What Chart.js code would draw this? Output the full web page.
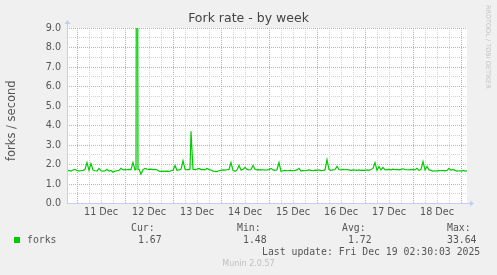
<!DOCTYPE html>
<html>
<head>
<meta charset="utf-8">
<script src="https://cdn.jsdelivr.net/npm/chart.js@4"></script>
<style>
  html, body { margin: 0; padding: 0; background: #F0F0F0; }
  #wrap { width: 497px; height: 275px; position: relative; }
</style>
</head>
<body>
<div id="wrap"><canvas id="c" width="497" height="275"></canvas></div>
<script>
// ---- data (hourly samples, hours relative to 11 Dec 00:00) ----
const startHour = -5;
const forks = [
  1.68,1.70,1.66,1.72,1.75,1.68,1.67,1.68,1.70,1.75,
  2.10,1.70,2.05,1.72,1.68,1.66,1.80,1.68,1.66,1.67,
  1.75,1.66,1.70,1.60,1.66,1.68,1.70,1.80,1.72,1.74,
  1.73,1.75,1.74,2.10,1.72,33.64,1.75,1.50,1.74,1.80,
  1.76,1.75,1.76,1.74,1.75,1.73,1.66,1.65,1.66,1.65,
  1.66,1.65,1.68,1.70,1.95,1.70,1.72,1.75,2.20,1.75,
  1.72,1.74,3.70,1.75,1.74,1.76,1.80,1.74,1.75,1.73,
  1.80,1.74,1.72,1.66,1.65,1.64,1.68,1.70,1.72,1.71,
  1.73,1.75,2.10,1.70,1.65,1.72,1.95,1.72,1.75,1.85,
  1.75,1.72,1.74,1.95,1.76,1.72,1.74,1.72,1.73,1.71,
  1.72,1.74,1.80,1.72,1.70,1.73,2.10,1.65,1.68,1.70,
  1.68,1.69,1.70,1.68,1.70,1.72,1.80,1.66,1.70,1.68,
  1.70,1.72,1.70,1.68,1.71,1.70,1.72,1.69,1.70,1.72,
  2.25,1.74,1.70,1.72,1.74,1.90,1.74,1.72,1.75,1.73,
  1.74,1.72,1.70,1.72,1.71,1.70,1.72,1.70,1.71,1.70,
  1.72,1.70,1.74,1.80,2.10,1.70,1.90,1.72,1.85,1.72,
  1.74,1.75,1.73,1.76,1.74,1.75,1.73,1.75,1.78,1.74,
  1.73,1.72,1.75,1.74,1.72,1.80,1.70,1.74,2.15,1.72,
  1.90,1.72,1.70,1.66,1.68,1.66,1.70,1.68,1.70,1.67,
  1.70,1.80,1.70,1.75,1.70,1.66,1.68,1.66,1.70,1.66,
  1.67
];
// extra half-hour samples around the big 12 Dec spike
const extraHours = [29.5, 30.5, 55.5, 56.5];
const extraForks = [1.74, 1.76, 1.75, 1.76];

const dayLabels = ['11 Dec','12 Dec','13 Dec','14 Dec','15 Dec','16 Dec','17 Dec','18 Dec'];
const yTickValues = [0,0.5,1,1.5,2,2.5,3,3.5,4,4.5,5,5.5,6,6.5,7,7.5,8,8.5,9];
const statNames = ['Cur:','Min:','Avg:','Max:'];
const statValues = ['1.67','1.48','1.72','33.64'];
const seriesName = 'forks';
const titleText = 'Fork rate - by week';
const yTitle = 'forks / second';
const lastUpdate = 'Last update: Fri Dec 19 02:30:03 2025';
const footer = 'Munin 2.0.57';
const sideText = 'RRDTOOL / TOBI OETIKER';

const points = forks.map((v, i) => ({ x: startHour + i, y: v }))
  .concat(extraHours.map((h, i) => ({ x: h, y: extraForks[i] })))
  .sort((a, b) => a.x - b.x);
const xMin = startHour, xMax = startHour + forks.length - 1;

const RED = '#e8a0a0', GREY = '#d2d2d2', AXIS = '#c8ccf4', GREEN = '#00cc00';
Chart.defaults.font.family = "'DejaVu Sans', sans-serif";

const decor = {
  id: 'decor',
  beforeDraw(chart) {
    const { ctx, chartArea: a } = chart;
    ctx.save();
    ctx.fillStyle = '#F0F0F0';
    ctx.fillRect(0, 0, chart.width, chart.height);
    ctx.fillStyle = '#FFFFFF';
    ctx.fillRect(a.left, a.top, a.right - a.left, a.bottom - a.top);
    ctx.restore();
  },
  afterDraw(chart) {
    const { ctx, chartArea: a } = chart;
    ctx.save();
    // axes with arrows
    ctx.strokeStyle = AXIS; ctx.fillStyle = AXIS; ctx.lineWidth = 1;
    const L = Math.round(a.left) + 0.5, B = Math.round(a.bottom) - 0.5;
    ctx.beginPath(); ctx.moveTo(L, B); ctx.lineTo(L, a.top - 4); ctx.stroke();
    ctx.beginPath(); ctx.moveTo(L - 3, a.top - 4); ctx.lineTo(L + 3, a.top - 4); ctx.lineTo(L, a.top - 8); ctx.closePath(); ctx.fill();
    ctx.beginPath(); ctx.moveTo(L, B); ctx.lineTo(a.right + 3, B); ctx.stroke();
    ctx.beginPath(); ctx.moveTo(a.right + 3, B - 3); ctx.lineTo(a.right + 3, B + 3); ctx.lineTo(a.right + 7, B); ctx.closePath(); ctx.fill();

    // title
    ctx.fillStyle = '#444';
    ctx.font = "12.5px 'DejaVu Sans'";
    ctx.textAlign = 'center'; ctx.textBaseline = 'middle';
    ctx.fillText(titleText, chart.width / 2, 19);

    // y title
    ctx.save();
    ctx.translate(12, (a.top + a.bottom) / 2 + 5);
    ctx.rotate(-Math.PI / 2);
    ctx.font = "11.5px 'DejaVu Sans'";
    ctx.fillStyle = '#555';
    ctx.fillText(yTitle, 0, 0);
    ctx.restore();

    // side text
    ctx.save();
    ctx.translate(488, 5);
    ctx.rotate(Math.PI / 2);
    ctx.font = "6.5px 'DejaVu Sans'";
    ctx.fillStyle = '#c4c4c4';
    ctx.textAlign = 'left'; ctx.textBaseline = 'middle';
    ctx.fillText(sideText, 0, 0);
    ctx.restore();

    // legend
    ctx.font = "9.8px 'DejaVu Sans Mono'";
    ctx.fillStyle = '#555';
    ctx.textAlign = 'left'; ctx.textBaseline = 'middle';
    const labelX = [131, 237, 342, 447];
    const valueX = [138, 243, 348, 447];
    statNames.forEach((s, i) => ctx.fillText(s, labelX[i], 228));
    statValues.forEach((s, i) => ctx.fillText(s, valueX[i], 240));
    ctx.fillStyle = GREEN;
    ctx.fillRect(14, 237, 6, 6);
    ctx.fillStyle = '#555';
    ctx.fillText(seriesName, 27, 240);
    ctx.fillText(lastUpdate, 262, 252);

    ctx.font = "8px 'DejaVu Sans'";
    ctx.fillStyle = '#c0c0c0';
    ctx.textAlign = 'center';
    ctx.fillText(footer, chart.width / 2, 264);
    ctx.restore();
  }
};

new Chart(document.getElementById('c'), {
  type: 'line',
  data: {
    datasets: [{
      label: seriesName,
      data: points,
      borderColor: GREEN,
      borderWidth: 1.2,
      pointRadius: 0,
      tension: 0,
      fill: false
    }]
  },
  options: {
    responsive: false,
    animation: false,
    events: [],
    layout: { padding: { left: 0, top: 28, right: 30, bottom: 0 } },
    plugins: { legend: { display: false }, title: { display: false }, tooltip: { enabled: false } },
    scales: {
      x: {
        type: 'linear',
        min: xMin, max: xMax,
        afterBuildTicks(scale) {
          const t = [];
          for (let h = 0; h <= xMax; h += 6) t.push({ value: h });
          scale.ticks = t;
        },
        afterFit(scale) { scale.height = 275 - 203.5; },
        ticks: {
          autoSkip: false, maxRotation: 0, padding: 3,
          color: '#555', font: { size: 9.6 },
          callback: (v) => (v % 24 === 12 ? dayLabels[(v - 12) / 24] : '')
        },
        grid: {
          drawTicks: false,
          color: (c) => (c.tick && c.tick.value % 24 === 0 ? RED : GREY),
          lineWidth: 1
        },
        border: { display: false, dash: [1, 1] }
      },
      y: {
        min: 0, max: 9,
        afterBuildTicks(scale) { scale.ticks = yTickValues.map(v => ({ value: v })); },
        afterFit(scale) { scale.width = 67; },
        ticks: {
          autoSkip: false, padding: 6,
          color: '#555', font: { size: 9.6 },
          callback: (v) => (v % 1 === 0 ? v.toFixed(1) : '')
        },
        grid: {
          drawTicks: false,
          color: (c) => (c.tick && c.tick.value % 1 === 0 ? RED : GREY),
          lineWidth: 1
        },
        border: { display: false, dash: [1, 1] }
      }
    }
  },
  plugins: [decor]
});
</script>
</body>
</html>
